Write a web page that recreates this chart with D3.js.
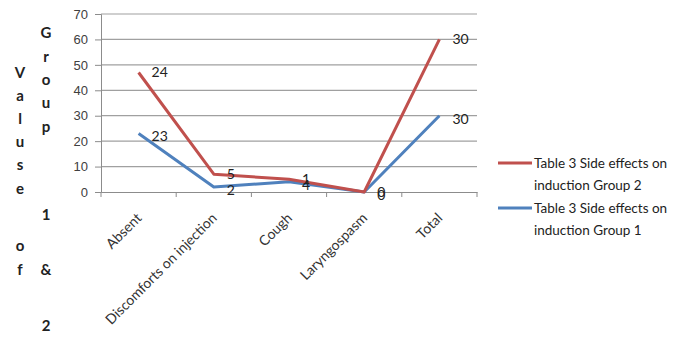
<!DOCTYPE html>
<html>
<head>
<meta charset="utf-8">
<script src="https://cdn.jsdelivr.net/npm/d3@7"></script>
<style>
  body { margin: 0; background: #fff; }
  svg { font-family: Lato, "Open Sans", sans-serif; }
</style>
</head>
<body>
<div id="chart"></div>
<script>
const categories = ["Absent", "Discomforts on injection", "Cough", "Laryngospasm", "Total"];
const group1 = [23, 2, 4, 0, 30];
const group2 = [24, 5, 1, 0, 30];
const yTicks = [0, 10, 20, 30, 40, 50, 60, 70];
const seriesNames = ["Table 3 Side effects on induction Group 2", "Table 3 Side effects on induction Group 1"];

const width = 675;
const height = 352;
const margin = { top: 14, right: 198, bottom: 160, left: 101 };

const svg = d3.select("#chart")
  .append("svg")
  .attr("width", width)
  .attr("height", height);

const x = d3.scaleBand()
  .domain(categories)
  .range([margin.left, width - margin.right]);

const y = d3.scaleLinear()
  .domain([0, 70])
  .range([height - margin.bottom, margin.top]);

// gridlines
svg.append("g")
  .selectAll("line")
  .data(yTicks.filter(d => d > 0))
  .enter()
  .append("line")
  .attr("x1", margin.left)
  .attr("x2", width - margin.right)
  .attr("y1", d => y(d))
  .attr("y2", d => y(d))
  .attr("stroke", "#a0a0a0")
  .attr("stroke-width", 1.2);

// y axis
const yAxis = svg.append("g")
  .attr("transform", `translate(${margin.left},0)`)
  .call(d3.axisLeft(y).tickValues(yTicks).tickSize(6).tickPadding(7));
yAxis.select(".domain").attr("stroke", "#8c8c8c");
yAxis.selectAll(".tick line").attr("stroke", "#8c8c8c");
yAxis.selectAll("text").attr("font-size", 13).attr("fill", "#404040");

// x axis
const xAxis = svg.append("g")
  .attr("transform", `translate(0,${y(0)})`)
  .call(d3.axisBottom(x).tickSize(0).tickFormat(""));
xAxis.select(".domain").attr("stroke", "#8c8c8c");
const bounds = [...categories.map(c => x(c)), x.range()[1]];
xAxis.selectAll(".edge")
  .data(bounds)
  .enter()
  .append("line")
  .attr("x1", d => d).attr("x2", d => d)
  .attr("y1", 0).attr("y2", 5)
  .attr("stroke", "#8c8c8c");

svg.append("g")
  .selectAll("text")
  .data(categories)
  .enter()
  .append("text")
  .attr("transform", d => `translate(${x(d) + x.bandwidth() / 2 - 3},${y(0) + 20}) rotate(-45)`)
  .attr("text-anchor", "end")
  .attr("dy", "0.7em")
  .attr("font-size", 14)
  .attr("fill", "#333")
  .text(d => d);

// stacked lines
const stacked2 = group1.map((v, i) => v + group2[i]);
const cx = c => x(c) + x.bandwidth() / 2;

const line = d3.line()
  .x((d, i) => cx(categories[i]))
  .y(d => y(d));

svg.append("path")
  .datum(group1)
  .attr("fill", "none")
  .attr("stroke", "#4f81bd")
  .attr("stroke-width", 3)
  .attr("stroke-linejoin", "round")
  .attr("d", line);

svg.append("path")
  .datum(stacked2)
  .attr("fill", "none")
  .attr("stroke", "#c0504d")
  .attr("stroke-width", 3)
  .attr("stroke-linejoin", "round")
  .attr("d", line);

// data labels
svg.append("g")
  .selectAll("text")
  .data(group2)
  .enter()
  .append("text")
  .attr("x", (d, i) => cx(categories[i]) + 13)
  .attr("y", (d, i) => y(stacked2[i]))
  .attr("dy", "0.35em")
  .attr("font-size", 14)
  .attr("fill", "#222")
  .text(d => d);

svg.append("g")
  .selectAll("text")
  .data(group1)
  .enter()
  .append("text")
  .attr("x", (d, i) => cx(categories[i]) + 13)
  .attr("y", d => y(d) + 3)
  .attr("dy", "0.35em")
  .attr("font-size", 14)
  .attr("fill", "#222")
  .text(d => d);

// y title, letters stacked in two columns
const col1 = [["V", 73], ["a", 96], ["l", 119], ["u", 142], ["s", 165], ["e", 189], ["o", 246], ["f", 270]];
const col2 = [["G", 33], ["r", 57], ["o", 80], ["u", 103], ["p", 127], ["1", 215], ["&", 270], ["2", 326]];
[[col1, 20], [col2, 46]].forEach(([col, cx0]) => {
  svg.append("g")
    .selectAll("text")
    .data(col)
    .enter()
    .append("text")
    .attr("x", cx0)
    .attr("y", d => d[1])
    .attr("dy", "0.35em")
    .attr("text-anchor", "middle")
    .attr("font-size", 15)
    .attr("font-weight", "bold")
    .attr("fill", "#222")
    .text(d => d[0]);
});

// legend
const legendColors = ["#c0504d", "#4f81bd"];
const legend = svg.append("g")
  .selectAll("g")
  .data(seriesNames)
  .enter()
  .append("g")
  .attr("transform", (d, i) => `translate(498,${163 + i * 45})`);

legend.append("line")
  .attr("x1", 0).attr("x2", 34)
  .attr("stroke", (d, i) => legendColors[i])
  .attr("stroke-width", 3);

legend.append("text")
  .attr("x", 36)
  .attr("font-size", 13.5)
  .attr("fill", "#222")
  .attr("dy", "0.35em")
  .text(d => d.split(" induction")[0]);

legend.append("text")
  .attr("x", 36)
  .attr("y", 22)
  .attr("font-size", 13.5)
  .attr("fill", "#222")
  .attr("dy", "0.35em")
  .text(d => "induction" + d.split("induction")[1]);
</script>
</body>
</html>
